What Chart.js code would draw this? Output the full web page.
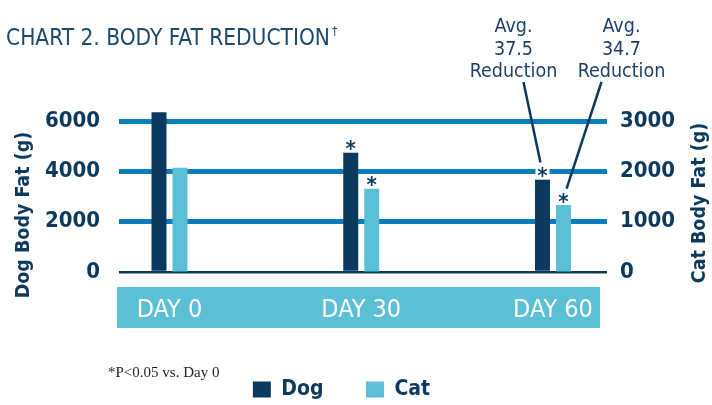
<!DOCTYPE html>
<html>
<head>
<meta charset="utf-8">
<script src="https://cdn.jsdelivr.net/npm/chart.js@4"></script>
<style>
  html, body { margin: 0; padding: 0; background: #fff; }
  #wrap { width: 712px; height: 405px; }
</style>
</head>
<body>
<div id="wrap"><canvas id="c" width="712" height="405"></canvas></div>
<script>
// values
const days = [0, 30, 60];
const dayLabels = ["DAY 0", "DAY 30", "DAY 60"];
const dogFat = [6350, 4750, 3680];
const catFat = [2070, 1660, 1330];
const dogSig = [false, true, true];
const catSig = [false, true, true];
const dogNote = ["Avg.", "37.5", "Reduction"];
const catNote = ["Avg.", "34.7", "Reduction"];

const FONT = "'DejaVu Sans Condensed', 'DejaVu Sans', sans-serif";
const NAVY = "#0c3a5e";
const BLUE = "#0a7dbd";
const LIGHT = "#5bbfd5";

// draws a rotated axis title reading bottom to top
function sideTitle(ctx, text, x, y) {
  ctx.save();
  ctx.fillStyle = NAVY;
  ctx.font = "bold 19.5px " + FONT;
  ctx.translate(x, y);
  ctx.rotate(-Math.PI / 2);
  ctx.textAlign = "center";
  ctx.textBaseline = "middle";
  ctx.fillText(text, 0, 0);
  ctx.restore();
}

const deco = {
  id: "deco",
  beforeDraw: (chart) => {
    const { ctx, chartArea: a } = chart;
    ctx.save();
    ctx.fillStyle = "#fff";
    ctx.fillRect(0, 0, chart.width, chart.height);
    // band behind the day labels
    ctx.fillStyle = LIGHT;
    ctx.fillRect(a.left - 2, a.bottom + 15, a.right - a.left - 5, 41);
    ctx.restore();
  },
  afterDatasetsDraw: (chart) => {
    const ctx = chart.ctx;
    ctx.save();
    ctx.font = "bold 22px " + FONT;
    const m = ctx.measureText("*");
    const mid = (m.actualBoundingBoxAscent - m.actualBoundingBoxDescent) / 2;
    ctx.textAlign = "center";
    [dogSig, catSig].forEach((flags, di) => {
      const meta = chart.getDatasetMeta(di);
      flags.forEach((on, i) => {
        if (!on) return;
        const bar = meta.data[i];
        const cy = bar.y - 7;
        ctx.fillStyle = "#fff";
        ctx.fillRect(bar.x - 7, cy - 7, 14, 14);
        ctx.fillStyle = NAVY;
        ctx.fillText("*", bar.x, cy + mid);
      });
    });

    // callouts for day 60
    const notes = [
      { ds: 0, idx: 2, lines: dogNote, dx: -29, lx: 10 },
      { ds: 1, idx: 2, lines: catNote, dx: 58, lx: -20 },
    ];
    const top = chart.chartArea.top;
    ctx.font = "19.5px " + FONT;
    notes.forEach((n) => {
      const bar = chart.getDatasetMeta(n.ds).data[n.idx];
      const tx = bar.x + n.dx;
      ctx.fillStyle = "#1e3f6b";
      n.lines.forEach((t, k) => {
        ctx.fillText(t, tx, top - 94 + k * 22.5);
      });
      const sx = tx + n.lx, sy = top - 39;
      const ax = bar.x, ay = bar.y - 7;
      const vx = sx - ax, vy = sy - ay;
      const len = Math.hypot(vx, vy);
      ctx.strokeStyle = NAVY;
      ctx.lineWidth = 2.5;
      ctx.beginPath();
      ctx.moveTo(sx, sy);
      ctx.lineTo(ax + (vx / len) * 10, ay + (vy / len) * 10);
      ctx.stroke();
    });
    ctx.restore();
  },
  afterDraw: (chart) => {
    const ctx = chart.ctx;
    const { y, y1 } = chart.scales;
    ctx.save();
    // title with small dagger
    ctx.fillStyle = "#1c4a6e";
    ctx.textAlign = "left";
    ctx.font = "22.5px " + FONT;
    const head = "CHART 2. BODY FAT REDUCTION";
    ctx.fillText(head, 6, 39);
    const w = ctx.measureText(head).width;
    ctx.font = "12px " + FONT;
    ctx.fillText("\u2020", 6 + w + 2, 32);
    ctx.restore();

    sideTitle(ctx, "Dog Body Fat (g)", y.left + 15, y.bottom - 57);
    sideTitle(ctx, "Cat Body Fat (g)", y1.right + 26, y1.bottom - 69);

    // footnote
    ctx.save();
    ctx.fillStyle = "#231f20";
    ctx.font = "15px 'Liberation Serif', 'DejaVu Serif', serif";
    ctx.fillText("*P<0.05 vs. Day 0", 108, 373);
    ctx.restore();
  },
};

const ctx = document.getElementById("c").getContext("2d");

new Chart(ctx, {
  type: "bar",
  plugins: [deco],
  data: {
    labels: days,
    datasets: [
      {
        label: "Dog",
        data: dogFat,
        yAxisID: "y",
        backgroundColor: NAVY,
        categoryPercentage: 0.219,
        barPercentage: 0.714,
        clip: false,
      },
      {
        label: "Cat",
        data: catFat,
        yAxisID: "y1",
        backgroundColor: LIGHT,
        categoryPercentage: 0.219,
        barPercentage: 0.714,
        clip: false,
      },
    ],
  },
  options: {
    responsive: false,
    animation: false,
    layout: { padding: { top: 121, left: 9, right: 38, bottom: -5 } },
    plugins: {
      tooltip: { enabled: false },
      legend: {
        position: "bottom",
        labels: {
          boxWidth: 18,
          boxHeight: 16,
          padding: 3,
          color: NAVY,
          font: { family: FONT, size: 21, weight: "bold" },
          generateLabels: (chart) =>
            Chart.defaults.plugins.legend.labels.generateLabels(chart).map((l, i, all) => {
              if (i < all.length - 1) l.text = l.text + "      ";
              return l;
            }),
        },
      },
    },
    scales: {
      x: {
        type: "linear",
        min: -7.9,
        max: 68.45,
        offset: false,
        afterBuildTicks: (s) => {
          s.ticks = days.map((v) => ({ value: v }));
        },
        afterFit: (s) => {
          s.height = 104;
        },
        grid: { display: false },
        border: { display: false },
        ticks: {
          padding: 15,
          maxRotation: 0,
          autoSkip: false,
          color: "#fff",
          font: { family: FONT, size: 25 },
          callback: (v) => dayLabels[days.indexOf(v)],
        },
      },
      y: {
        position: "left",
        min: 0,
        max: 6000,
        afterFit: (s) => {
          s.width = 110;
        },
        ticks: {
          stepSize: 2000,
          padding: 19,
          color: NAVY,
          font: { family: FONT, size: 22, weight: "bold" },
          callback: (v) => String(v),
        },
        grid: {
          drawTicks: false,
          color: (c) => (c.tick && c.tick.value === 0 ? NAVY : BLUE),
          lineWidth: (c) => (c.tick && c.tick.value === 0 ? 2.5 : 5),
        },
        border: { display: false },
      },
      y1: {
        position: "right",
        min: 0,
        max: 3000,
        afterFit: (s) => {
          s.width = 67;
        },
        ticks: {
          stepSize: 1000,
          padding: 13,
          color: NAVY,
          font: { family: FONT, size: 22, weight: "bold" },
          callback: (v) => String(v),
        },
        grid: { drawOnChartArea: false, drawTicks: false },
        border: { display: false },
      },
    },
  },
});
</script>
</body>
</html>
